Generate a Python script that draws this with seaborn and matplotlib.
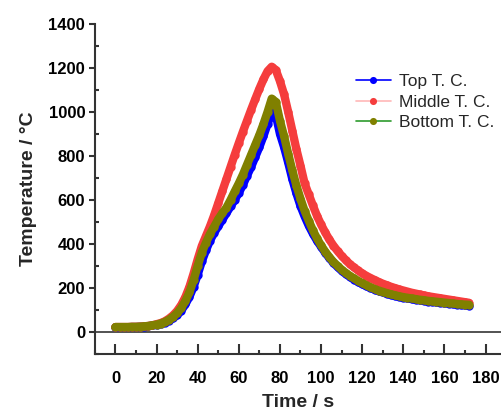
import numpy as np
import pandas as pd
import matplotlib
matplotlib.use("Agg")
import matplotlib.pyplot as plt
from matplotlib.ticker import MultipleLocator
import seaborn as sns

# datos (cada 2 s)
tiempo = list(range(0, 174, 2))

top_tc = [20, 20, 21, 21, 22, 22, 23, 24, 26, 29, 32, 36, 42, 51, 62, 77,
          97, 125, 160, 205, 260, 320, 370, 415, 450, 480, 510, 540, 570, 600,
          632, 668, 710, 750, 795, 840, 890, 945, 998, 985, 900, 840, 770, 695,
          630, 572, 525, 483, 447, 415, 387, 360, 336, 314, 295, 278, 263, 250,
          238, 227, 217, 208, 200, 192, 185, 179, 173, 168, 163, 159, 155, 152,
          149, 146, 143, 141, 138, 136, 134, 132, 130, 128, 126, 124, 122, 120, 118]

middle_tc = [22, 22, 22, 22, 23, 23, 24, 25, 27, 30, 35, 40, 48, 60, 75, 95,
             122, 158, 205, 265, 330, 390, 435, 480, 530, 585, 640, 695, 750, 805,
             858, 910, 960, 1010, 1058, 1105, 1148, 1185, 1205, 1190, 1140, 1080, 1000, 915,
             830, 755, 675, 625, 575, 528, 488, 452, 420, 392, 368, 346, 326, 308,
             293, 279, 266, 255, 245, 236, 227, 219, 212, 205, 199, 193, 188, 183,
             178, 174, 170, 166, 162, 159, 156, 153, 150, 147, 144, 141, 138, 135, 132]

bottom_tc = [22, 22, 22, 22, 23, 23, 24, 25, 27, 30, 33, 38, 45, 55, 68, 85,
             108, 140, 180, 235, 300, 360, 405, 445, 478, 512, 540, 565, 600, 638,
             675, 715, 760, 805, 850, 895, 945, 1000, 1060, 1045, 960, 890, 810, 735,
             665, 605, 550, 505, 462, 425, 393, 365, 340, 318, 300, 283, 268, 255,
             243, 232, 222, 212, 203, 195, 188, 182, 176, 171, 166, 162, 158, 155,
             152, 149, 146, 144, 141, 139, 137, 135, 133, 131, 129, 127, 125, 124, 123]

series = ["Top T. C.", "Middle T. C.", "Bottom T. C."]
colores_linea = ["#0000FF", "#FFB8B8", "#2E9B2E"]
colores_marca = ["#0000FF", "#F53D3D", "#808000"]

df = pd.DataFrame({"Tiempo": tiempo, series[0]: top_tc,
                   series[1]: middle_tc, series[2]: bottom_tc})

sns.set_style("ticks")
plt.rcParams["font.family"] = ["Liberation Sans", "DejaVu Sans"]

fig = plt.figure(figsize=(5.02, 4.11), dpi=100)
ax = fig.add_axes([0.189, 0.139, 0.811, 0.803])

ax.axhline(0, color="#444444", lw=1.3, zorder=1)

for i, (nombre, cl, cm) in enumerate(zip(series, colores_linea, colores_marca)):
    # marcadores con la linea fina de la leyenda
    sns.lineplot(data=df, x="Tiempo", y=nombre, ax=ax, color=cl, lw=1.2,
                 marker="o", markersize=6.0, markerfacecolor=cm,
                 markeredgecolor=cm, markeredgewidth=0, label=nombre,
                 zorder=3 + 2 * i)
    # trazo grueso encima que simula los marcadores muy juntos
    sns.lineplot(data=df, x="Tiempo", y=nombre, ax=ax, color=cm, lw=6.0,
                 solid_capstyle="round", solid_joinstyle="round",
                 zorder=4 + 2 * i)

ax.set_xlim(-10, 188)
ax.set_ylim(-100, 1400)
ax.xaxis.set_major_locator(MultipleLocator(20))
ax.xaxis.set_minor_locator(MultipleLocator(10))
ax.yaxis.set_major_locator(MultipleLocator(200))
ax.yaxis.set_minor_locator(MultipleLocator(100))
ax.set_yticks(range(0, 1600, 200))

for s in ["top", "right"]:
    ax.spines[s].set_visible(False)
for s in ["left", "bottom"]:
    ax.spines[s].set_linewidth(1.5)
    ax.spines[s].set_color("#333333")

ax.tick_params(axis="x", which="major", direction="in", length=7, width=1.5,
               colors="#333333", labelcolor="black", labelsize=12, pad=12)
ax.tick_params(axis="x", which="minor", direction="in", length=3, width=1.5,
               colors="#333333")
ax.tick_params(axis="y", which="major", direction="out", length=4, width=1.5,
               colors="#333333", labelcolor="black", labelsize=12, pad=3)
ax.tick_params(axis="y", which="minor", direction="in", length=3, width=1.5,
               colors="#333333")
for lbl in ax.get_xticklabels() + ax.get_yticklabels():
    lbl.set_fontweight("bold")

ax.set_xlabel("Time / s", fontsize=14, fontweight="bold", labelpad=6)
ax.set_ylabel("Temperature / °C", fontsize=14, fontweight="bold", labelpad=8)

handles, labels = ax.get_legend_handles_labels()
ax.legend(handles, labels, loc="upper left", bbox_to_anchor=(0.603, 0.895),
          frameon=False, fontsize=12.5, handlelength=2.0, handletextpad=0.45,
          labelspacing=0.3, markerscale=0.85)

fig.savefig("out.png", dpi=100)
